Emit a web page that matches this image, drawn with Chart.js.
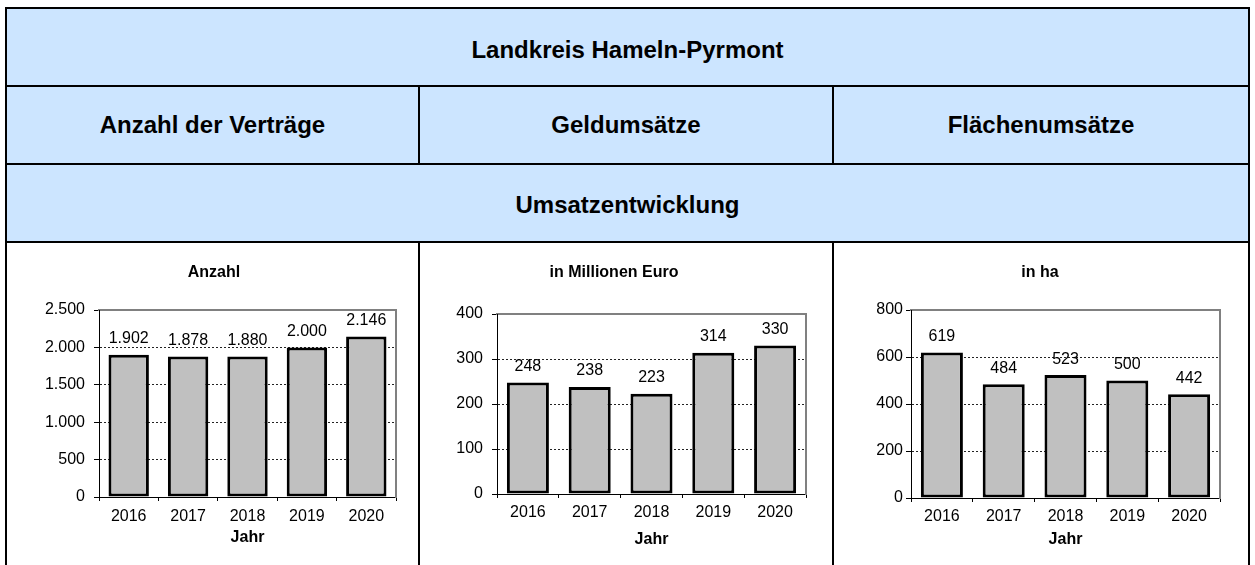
<!DOCTYPE html>
<html lang="de">
<head>
<meta charset="utf-8">
<title>Landkreis Hameln-Pyrmont – Umsatzentwicklung</title>
<script src="https://cdn.jsdelivr.net/npm/chart.js@4.4.1/dist/chart.umd.min.js"></script>
<style>
  body { margin: 0; width: 1255px; height: 565px; overflow: hidden; background: #fff;
         font-family: "Liberation Sans", Arial, sans-serif; }
  .cell { position: absolute; background: #cce5ff; display: flex; align-items: center;
          justify-content: center; font-weight: bold; font-size: 24px; color: #000; box-sizing: border-box; }
  .line { position: absolute; background: #000; }
  canvas { position: absolute; }
</style>
</head>
<body>

<!-- header rows -->
<div class="cell" style="left:7px;top:9px;width:1241px;height:76px;padding-top:6px">Landkreis Hameln-Pyrmont</div>
<div class="cell" style="left:7px;top:87px;width:411px;height:76px">Anzahl der Verträge</div>
<div class="cell" style="left:420px;top:87px;width:412px;height:76px">Geldumsätze</div>
<div class="cell" style="left:834px;top:87px;width:414px;height:76px">Flächenumsätze</div>
<div class="cell" style="left:7px;top:165px;width:1241px;height:76px;padding-top:4px">Umsatzentwicklung</div>

<!-- grid lines of the table -->
<div class="line" style="left:5px;top:7px;width:1245px;height:2px"></div>
<div class="line" style="left:5px;top:85px;width:1245px;height:2px"></div>
<div class="line" style="left:5px;top:163px;width:1245px;height:2px"></div>
<div class="line" style="left:5px;top:241px;width:1245px;height:2px"></div>
<div class="line" style="left:5px;top:7px;width:2px;height:560px"></div>
<div class="line" style="left:1248px;top:7px;width:2px;height:560px"></div>
<div class="line" style="left:418px;top:85px;width:2px;height:80px"></div>
<div class="line" style="left:832px;top:85px;width:2px;height:80px"></div>
<div class="line" style="left:418px;top:241px;width:2px;height:326px"></div>
<div class="line" style="left:832px;top:241px;width:2px;height:326px"></div>

<canvas id="chartAnzahl" width="411" height="322" style="left:7px;top:243px"></canvas>
<canvas id="chartGeld" width="412" height="322" style="left:420px;top:243px"></canvas>
<canvas id="chartFlaeche" width="414" height="322" style="left:834px;top:243px"></canvas>

<script>
// Data
const years = ['2016', '2017', '2018', '2019', '2020'];
const anzahlVertraege = [1902, 1878, 1880, 2000, 2146];
const geldumsatzMio = [248, 238, 223, 314, 330];
const flaechenumsatzHa = [619, 484, 523, 500, 442];

const anzahlAxis = { max: 2500, step: 500 };
const geldAxis = { max: 400, step: 100 };
const flaecheAxis = { max: 800, step: 200 };

const FONT = '"Liberation Sans", Arial, sans-serif';
const FS = 16;

// German thousands separator
function fmt(v) {
    return String(v).replace(/\B(?=(\d{3})+(?!\d))/g, '.');
}

// value labels above each bar
const valueLabels = {
    id: 'valueLabels',
    afterDatasetsDraw(chart) {
        const ctx = chart.ctx;
        const meta = chart.getDatasetMeta(0);
        const data = chart.data.datasets[0].data;
        ctx.save();
        ctx.font = FS + 'px ' + FONT;
        ctx.fillStyle = '#000';
        ctx.textAlign = 'center';
        ctx.textBaseline = 'middle';
        meta.data.forEach((bar, i) => ctx.fillText(fmt(data[i]), bar.x, bar.y - 16));
        ctx.restore();
    }
};

function makeChart(id, title, values, axis, box) {
    const hide = c => (c.tick.value === 0 || c.tick.value === axis.max) ? 'rgba(0,0,0,0)' : '#222';
    const half = FS * 1.2 / 2;
    return new Chart(document.getElementById(id), {
        type: 'bar',
        data: {
            labels: years,
            datasets: [{
                data: values,
                backgroundColor: '#c0c0c0',
                borderColor: '#000',
                borderWidth: 3,
                borderSkipped: false,
                barPercentage: 0.68,
                categoryPercentage: 1
            }]
        },
        plugins: [valueLabels],
        options: {
            responsive: false,
            animation: false,
            events: [],
            layout: { padding: { left: box.padLeft, right: box.padRight, top: 0, bottom: 0 } },
            plugins: {
                legend: { display: false },
                tooltip: { enabled: false },
                title: {
                    display: true,
                    text: title,
                    color: '#000',
                    font: { family: FONT, size: FS, weight: 'bold', lineHeight: 1.2 },
                    padding: { top: 30 - half, bottom: box.plotTop - 30 - half }
                }
            },
            scales: {
                x: {
                    grid: { drawOnChartArea: false, drawTicks: true, tickLength: 4, color: '#000', tickColor: '#000', offset: true },
                    border: { color: '#000', width: 1 },
                    ticks: { color: '#000', font: { family: FONT, size: FS }, padding: box.labelGap - 4 - half, maxRotation: 0 },
                    title: {
                        display: true, text: 'Jahr', color: '#000',
                        font: { family: FONT, size: FS, weight: 'bold', lineHeight: 1.2 },
                        padding: { top: 0, bottom: box.jahrFromBottom - half }
                    },
                    afterFit: s => { s.height = box.xHeight; }
                },
                xTop: {
                    axis: 'x', type: 'category', position: 'top',
                    grid: { drawOnChartArea: false, drawTicks: false },
                    ticks: { display: false },
                    border: { color: '#808080', width: 2 },
                    afterFit: s => { s.height = 0; }
                },
                y: {
                    min: 0, max: axis.max,
                    grid: { color: hide, tickColor: '#000', lineWidth: 1, drawTicks: true, tickLength: 5 },
                    border: { color: '#000', width: 1, dash: [2, 2] },
                    ticks: { stepSize: axis.step, color: '#000', font: { family: FONT, size: FS }, padding: box.yPad, callback: v => fmt(v) },
                    afterFit: s => { s.width = box.yWidth; }
                },
                yRight: {
                    axis: 'y', type: 'linear', position: 'right', min: 0, max: axis.max,
                    grid: { drawOnChartArea: false, drawTicks: false },
                    ticks: { display: false },
                    border: { color: '#808080', width: 2 },
                    afterFit: s => { s.width = 0; }
                }
            }
        }
    });
}

makeChart('chartAnzahl', 'Anzahl', anzahlVertraege, anzahlAxis,
    { padLeft: 25, padRight: 22, yWidth: 67, yPad: 9, plotTop: 67, xHeight: 68, labelGap: 20, jahrFromBottom: 27 });
makeChart('chartGeld', 'in Millionen Euro', geldumsatzMio, geldAxis,
    { padLeft: 2, padRight: 26, yWidth: 75, yPad: 9, plotTop: 71, xHeight: 71, labelGap: 19, jahrFromBottom: 25 });
makeChart('chartFlaeche', 'in ha', flaechenumsatzHa, flaecheAxis,
    { padLeft: 26, padRight: 28, yWidth: 51, yPad: 3, plotTop: 67, xHeight: 67, labelGap: 19, jahrFromBottom: 25 });
</script>
</body>
</html>
